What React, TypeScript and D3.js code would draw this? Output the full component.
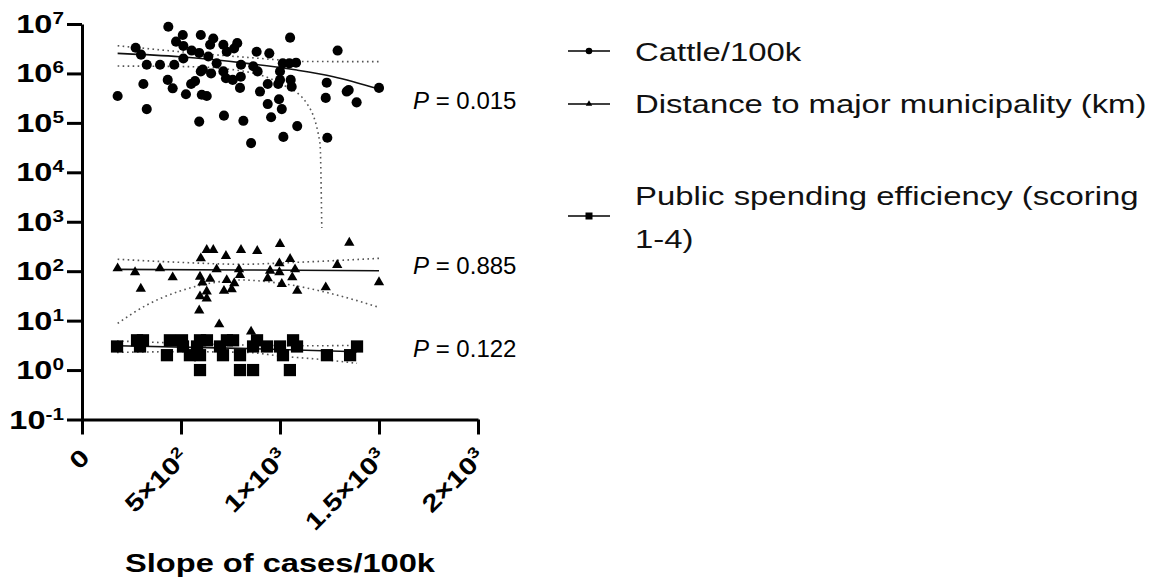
import React, { useEffect, useRef } from 'react';
import * as d3 from 'd3';

// Slope of cases/100k (x) and the variable (y)
const cattleX = [436, 509, 600, 663, 475, 512, 271, 714, 784, 768, 647, 554, 592, 731, 1051, 882, 946, 1291, 298, 512,
  638, 327, 394, 466, 680, 803, 865, 1014, 1047, 1081, 610, 600, 652, 714, 887, 1000, 727, 761, 802, 1000,
  1054, 433, 310, 571, 551, 938, 991, 1236, 458, 798, 1059, 1347, 1337, 1500, 180, 525, 605, 630, 899, 1231,
  995, 938, 1387, 327, 1009, 717, 955, 592, 815, 1087, 1017, 1239, 854];
const cattleY = [8.8e6, 6.0e6, 6.0e6, 5.1e6, 4.4e6, 3.6e6, 3.3e6, 3.8e6, 4.1e6, 3.2e6, 3.8e6, 2.9e6, 2.6e6, 2.75e6, 5.3e6, 2.75e6, 2.55e6, 2.9e6, 2.4e6, 2.0e6,
  2.2e6, 1.5e6, 1.5e6, 1.5e6, 1.6e6, 1.5e6, 1.4e6, 1.6e6, 1.6e6, 1.65e6, 1.2e6, 1.1e6, 1.0e6, 1.1e6, 1.1e6, 1.1e6, 8.0e5, 7.4e5, 8.6e5, 7.4e5,
  7.4e5, 7.4e5, 6.1e5, 7.0e5, 6.1e5, 6.1e5, 6.1e5, 6.5e5, 5.0e5, 5.1e5, 5.4e5, 4.6e5, 4.3e5, 5.1e5, 3.5e5, 3.8e5, 3.7e5, 3.5e5, 4.3e5, 3.2e5,
  3.0e5, 2.4e5, 2.6e5, 1.9e5, 1.9e5, 1.4e5, 1.3e5, 1.06e5, 1.1e5, 8.6e4, 5.2e4, 5.0e4, 3.9e4];

const distX = [180, 268, 394, 458, 297, 600, 630, 663, 727, 803, 885, 1000, 1350, 1051, 997, 1289, 680, 793, 1076, 950,
  997, 596, 647, 731, 798, 938, 1062, 769, 1009, 608, 630, 717, 756, 1087, 1231, 1500, 596, 630, 592, 693, 854];
const distY = [114, 95, 114, 75, 44, 182, 268, 268, 203, 268, 256, 355, 377, 176, 144, 133, 109, 109, 109, 102,
  95, 77, 70, 66, 84, 72, 75, 57, 55, 59, 39, 40, 43, 40, 47, 60, 31, 28, 16, 8.4, 6.0];

const spendX = [177, 278, 308, 293, 444, 505, 429, 510, 545, 596, 596, 631, 581, 697, 732, 763, 712, 798, 864, 884,
  934, 1000, 1015, 1066, 1086, 1237, 1354, 1389, 596, 798, 864, 1050];
const spendY = [3, 4, 4, 3, 4, 4, 2, 3, 2, 2, 4, 4, 3, 3, 4, 4, 2, 2, 3, 4,
  3, 3, 2, 4, 3, 2, 2, 3, 1, 1, 1, 1];

// linear regression lines and 95% bands as drawn in the figure: [x, y]
const cattleFit = [[180, 2.55e6], [495, 2.18e6], [832, 1.6e6], [1085, 1.17e6], [1270, 8.6e5], [1500, 4.84e5]];
const cattleUpper = [[180, 3.64e6], [495, 2.75e6], [747, 2.25e6], [1000, 1.87e6], [1085, 1.75e6], [1500, 1.73e6]];
const cattleLower = [[180, 1.41e6], [545, 1.37e6], [832, 1.08e6], [1000, 6.3e5], [1135, 2.49e5], [1202, 3.86e4], [1211, 747]];

const distFit = [[180, 109], [798, 106], [1500, 102]];
const distUpper = [[180, 174], [495, 151], [798, 138], [1084, 151], [1500, 182]];
const distLower = [[180, 8.8], [327, 20.7], [495, 39.7], [663, 58.5], [798, 66.4], [1000, 56.9], [1253, 35.7], [1500, 18.6]];

const spendFit = [[177, 3.11], [798, 2.75], [1389, 2.35]];
const spendUpper = [[177, 3.87], [500, 3.5], [832, 3.2], [1130, 3.1], [1389, 3.15]];
const spendLower = [[177, 2.28], [500, 2.35], [832, 2.28], [1000, 1.92], [1236, 1.6], [1389, 1.37]];

const seriesNames = ['Cattle/100k', 'Distance to major municipality (km)', 'Public spending efficiency (scoring 1-4)'];
const pValues = ['0.015', '0.885', '0.122'];

const xTicks = [0, 500, 1000, 1500, 2000];
const xTickLabels = [['0', ''], ['5×10', '2'], ['1×10', '3'], ['1.5×10', '3'], ['2×10', '3']];
const yTickExps = [-1, 0, 1, 2, 3, 4, 5, 6, 7];

const FONT = '"Liberation Sans", Arial, sans-serif';

const App = () => {
  const svgRef = useRef<SVGSVGElement>(null);

  useEffect(() => {
    const svg = d3.select(svgRef.current);
    svg.selectAll('*').remove();

    const x = d3.scaleLinear().domain([0, 2000]).range([82, 478]);
    const y = d3.scaleLog().domain([0.1, 1e7]).range([419.5, 24]);

    const series = [
      { xs: cattleX, ys: cattleY, fit: cattleFit, up: cattleUpper, lo: cattleLower, sym: d3.symbolCircle, size: 80, lsize: 34 },
      { xs: distX, ys: distY, fit: distFit, up: distUpper, lo: distLower, sym: d3.symbolTriangle, size: 46, lsize: 18 },
      { xs: spendX, ys: spendY, fit: spendFit, up: spendUpper, lo: spendLower, sym: d3.symbolSquare, size: 150, lsize: 49 },
    ];

    const lineGen = d3.line<number[]>()
      .x(d => x(d[0]))
      .y(d => y(d[1]))
      .curve(d3.curveMonotoneX);

    // confidence bands (dotted) and fitted lines
    series.forEach(s => {
      [s.up, s.lo].forEach(band => {
        svg.append('path')
          .attr('d', lineGen(band))
          .attr('fill', 'none')
          .attr('stroke', '#555')
          .attr('stroke-width', 1.6)
          .attr('stroke-dasharray', '1.6 3.4');
      });
      svg.append('path')
        .attr('d', lineGen(s.fit))
        .attr('fill', 'none')
        .attr('stroke', '#111')
        .attr('stroke-width', 1.6);
    });

    // points
    series.forEach(s => {
      svg.append('g')
        .selectAll('path')
        .data(s.xs.map((v, i) => [v, s.ys[i]]))
        .enter()
        .append('path')
        .attr('d', d3.symbol().type(s.sym).size(s.size)())
        .attr('transform', d => `translate(${x(d[0])},${y(d[1])})`)
        .attr('fill', '#000');
    });

    // y axis
    const yAxis = svg.append('g')
      .attr('transform', 'translate(82,0)')
      .call(d3.axisLeft(y).tickValues(yTickExps.map(e => Math.pow(10, e))).tickSize(15).tickSizeOuter(0).tickFormat(() => ''));
    yAxis.select('.domain').attr('stroke', '#000').attr('stroke-width', 3);
    yAxis.selectAll('line').attr('stroke', '#000').attr('stroke-width', 3);

    yTickExps.forEach(e => {
      const t = svg.append('text')
        .attr('transform', `translate(64,${y(Math.pow(10, e)) + 9}) scale(1.3,1)`)
        .attr('text-anchor', 'end')
        .attr('font-family', FONT)
        .attr('font-weight', 'bold')
        .attr('font-size', 25);
      t.append('tspan').text('10');
      t.append('tspan').attr('dy', -9).attr('font-size', 16).text(String(e));
    });

    // x axis
    const xAxis = svg.append('g')
      .attr('transform', 'translate(0,419.5)')
      .call(d3.axisBottom(x).tickValues(xTicks).tickSize(15).tickSizeOuter(0).tickFormat(() => ''));
    xAxis.select('.domain').attr('stroke', '#000').attr('stroke-width', 3);
    xAxis.selectAll('line').attr('stroke', '#000').attr('stroke-width', 3);

    xTicks.forEach((v, i) => {
      const [base, sup] = xTickLabels[i];
      const t = svg.append('text')
        .attr('transform', `translate(${x(v) + 3},453) rotate(-45) scale(1.25,1)`)
        .attr('text-anchor', 'end')
        .attr('dy', '0.35em')
        .attr('font-family', FONT)
        .attr('font-weight', 'bold')
        .attr('font-size', 24);
      t.append('tspan').text(base);
      if (sup) t.append('tspan').attr('dy', -9).attr('font-size', 15).text(sup);
    });

    svg.append('text')
      .attr('transform', 'translate(280,571.5) scale(1.28,1)')
      .attr('text-anchor', 'middle')
      .attr('font-family', FONT)
      .attr('font-weight', 'bold')
      .attr('font-size', 25.5)
      .text('Slope of cases/100k');

    // P values
    const pBase = [109, 274, 357];
    pValues.forEach((p, i) => {
      const t = svg.append('text')
        .attr('x', 413)
        .attr('y', pBase[i])
        .attr('font-family', FONT)
        .attr('font-size', 24);
      t.append('tspan').attr('font-style', 'italic').text('P');
      t.append('tspan').text(` = ${p}`);
    });

    // legend
    const legRows = [51, 104, 216];
    const legLines = [[60.5], [112.5], [205, 247.5]];
    const legText = [[seriesNames[0]], [seriesNames[1]], ['Public spending efficiency (scoring', '1-4)']];
    series.forEach((s, i) => {
      const g = svg.append('g');
      g.append('line')
        .attr('x1', 568).attr('x2', 610)
        .attr('y1', legRows[i]).attr('y2', legRows[i])
        .attr('stroke', '#000').attr('stroke-width', 1.5);
      g.append('path')
        .attr('d', d3.symbol().type(s.sym).size(s.lsize)())
        .attr('transform', `translate(589,${legRows[i]})`)
        .attr('fill', '#000');
      legText[i].forEach((str, j) => {
        g.append('text')
          .attr('transform', `translate(635,${legLines[i][j]}) scale(1.265,1)`)
          .attr('font-family', FONT)
          .attr('font-size', 26)
          .attr('fill', '#111')
          .text(str);
      });
    });
  }, []);

  return (
    <svg ref={svgRef} width={1151} height={581}
      style={{ position: 'absolute', left: 0, top: 0, background: '#fff' }} />
  );
};

export default App;
